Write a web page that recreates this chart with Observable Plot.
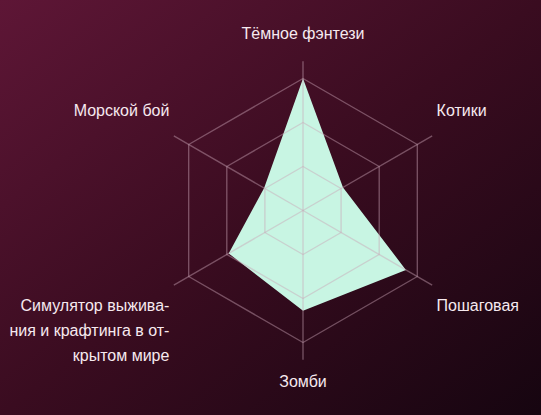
<!DOCTYPE html>
<html>
<head>
<meta charset="utf-8">
<script src="https://cdn.jsdelivr.net/npm/d3@7"></script>
<script src="https://cdn.jsdelivr.net/npm/@observablehq/plot@0.6"></script>
<style>
  html, body { margin: 0; padding: 0; }
  body { width: 541px; height: 415px; overflow: hidden;
         background: linear-gradient(to bottom right, #5e1636 0%, #3a0c20 50%, #160510 100%); }
  #chart svg { display: block; background: transparent; }
</style>
</head>
<body>
<div id="chart"></div>
<script>
// ---- data ----
const categories = ["Тёмное фэнтези", "Котики", "Пошаговая", "Зомби", "Симулятор выживания и крафтинга в открытом мире", "Морской бой"];
const labels = ["Тёмное фэнтези", "Котики", "Пошаговая", "Зомби", "Симулятор выжива-\nния и крафтинга в от-\nкрытом мире", "Морской бой"];
const values = [100, 35, 90, 76, 65, 34];
const maxValue = 100;
const ringLevels = [1/3, 2/3, 1];

// ---- geometry helpers ----
const W = 541, H = 415, cx = 302.5, cy = 210, R = 132;
const n = categories.length;
const angle = i => (2 * Math.PI * i) / n; // clockwise from top
const pt = (i, r) => ({x: r * Math.sin(angle(i)), y: r * Math.cos(angle(i))});

const polygon = values.map((v, i) => ({cat: categories[i], ...pt(i, v / maxValue)}));
const rings = ringLevels.flatMap(l => categories.map((c, i) => ({ring: l, ...pt(i, l)})));
const spokes = categories.map((c, i) => {
  const e = pt(i, 1.13);
  return {cat: c, x1: 0, y1: 0, x2: e.x, y2: e.y};
});
const labelData = labels.map((t, i) => {
  const p = pt(i, 1.16);
  const s = Math.sin(angle(i)), co = Math.cos(angle(i));
  return {text: t, ...p,
          anchor: s > 0.1 ? "start" : s < -0.1 ? "end" : "middle",
          upper: co > 0};
});

const textMarks = [];
for (const upper of [true, false]) {
  for (const anchor of ["start", "middle", "end"]) {
    textMarks.push(Plot.text(labelData, {
      filter: d => d.upper === upper && d.anchor === anchor,
      x: "x", y: "y", text: "text",
      textAnchor: anchor,
      lineAnchor: upper ? "bottom" : "top",
      dy: upper ? -18 : 6,
      dx: anchor === "end" ? -1 : anchor === "start" ? 1 : 0,
      lineHeight: 1.56,
      fill: "#f6e9ef",
      fontSize: 16
    }));
  }
}

const chart = Plot.plot({
  width: W, height: H,
  margin: 0,
  x: {domain: [-cx / R, (W - cx) / R], range: [0, W], axis: null},
  y: {domain: [-(H - cy) / R, cy / R], range: [H, 0], axis: null},
  style: {background: "transparent", fontFamily: "'Liberation Sans', Arial, sans-serif", fontSize: "16px"},
  marks: [
    Plot.line(polygon, {x: "x", y: "y", curve: "linear-closed", fill: "#c8f5e3", stroke: "none"}),
    Plot.line(rings, {x: "x", y: "y", z: "ring", curve: "linear-closed", stroke: "#c9a3b5", strokeOpacity: 0.45, strokeWidth: 1.4}),
    Plot.link(spokes, {x1: "x1", y1: "y1", x2: "x2", y2: "y2", stroke: "#c9a3b5", strokeOpacity: 0.45, strokeWidth: 1.4}),
    ...textMarks
  ]
});
document.getElementById("chart").append(chart);
</script>
</body>
</html>
